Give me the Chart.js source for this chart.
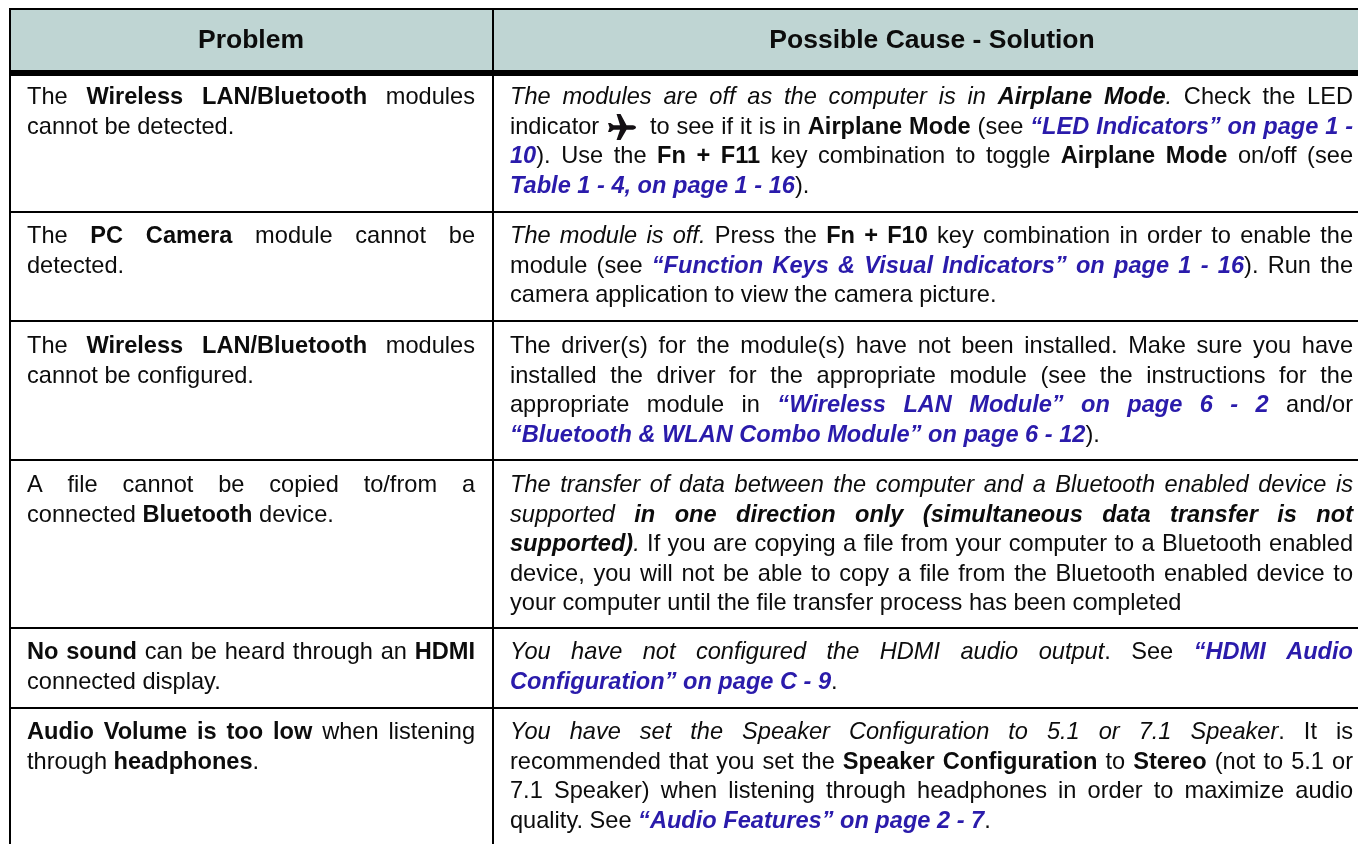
<!DOCTYPE html>
<html>
<head>
<meta charset="utf-8">
<style>html,body{margin:0;padding:0;background:#fff}canvas{display:block}</style>
<script src="https://cdn.jsdelivr.net/npm/chart.js@4"></script>
</head>
<body>
<canvas id="c" width="1358" height="844"></canvas>
<script>
// Markup: * bold, _ italic, { } blue bold-italic link, @ airplane icon. Lines ending in "|" are not justified.
const columnHeaders = ["Problem", "Possible Cause - Solution"];
const problems = [
  ["The *Wireless LAN/Bluetooth* modules", "cannot be detected.|"],
  ["The *PC Camera* module cannot be", "detected.|"],
  ["The *Wireless LAN/Bluetooth* modules", "cannot be configured.|"],
  ["A file cannot be copied to/from a", "connected *Bluetooth* device.|"],
  ["*No sound* can be heard through an *HDMI*", "connected display.|"],
  ["*Audio Volume is too low* when listening", "through *headphones*.|"]
];
const solutions = [
  ["_The modules are off as the computer is in *Airplane Mode*._ Check the LED",
   "indicator @ to see if it is in *Airplane Mode* (see {“LED Indicators” on page 1 -}",
   "{10}). Use the *Fn + F11* key combination to toggle *Airplane Mode* on/off (see",
   "{Table 1 - 4, on page 1 - 16}).|"],
  ["_The module is off._ Press the *Fn + F10* key combination in order to enable the",
   "module (see {“Function Keys & Visual Indicators” on page 1 - 16}). Run the",
   "camera application to view the camera picture.|"],
  ["The driver(s) for the module(s) have not been installed. Make sure you have",
   "installed the driver for the appropriate module (see the instructions for the",
   "appropriate module in {“Wireless LAN Module” on page 6 - 2} and/or",
   "{“Bluetooth & WLAN Combo Module” on page 6 - 12}).|"],
  ["_The transfer of data between the computer and a Bluetooth enabled device is_",
   "_supported *in one direction only (simultaneous data transfer is not*_",
   "_*supported)*._ If you are copying a file from your computer to a Bluetooth enabled",
   "device, you will not be able to copy a file from the Bluetooth enabled device to",
   "your computer until the file transfer process has been completed|"],
  ["_You have not configured the HDMI audio output_. See {“HDMI Audio}",
   "{Configuration” on page C - 9}.|"],
  ["_You have set the Speaker Configuration to 5.1 or 7.1 Speaker_. It is",
   "recommended that you set the *Speaker Configuration* to *Stereo* (not to 5.1 or",
   "7.1 Speaker) when listening through headphones in order to maximize audio",
   "quality. See {“Audio Features” on page 2 - 7}.|"]
];

// Table geometry, read in page pixels through the chart's scales
const rowRules = [9, 73, 212, 321, 460, 628, 708];
const columnRules = [10, 492.5];
const firstBaselines = [104, 243, 353, 492, 659, 739];
const LINE_PITCH = 29.5;
const BODY_PX = 23.6, HEAD_PX = 26.5;
const FAMILY = '"Liberation Sans", Arial, sans-serif';
const INK = '#0c0c0c', LINK = '#2a1bab', HEAD_FILL = '#bfd5d3';
const SOFTEN = 'blur(0.4px)';

function fontFor(s, px) {
  return (s.i ? 'italic ' : '') + (s.b ? 'bold ' : '') + px + 'px ' + FAMILY;
}
// split a marked-up line into words, each word a list of styled runs
function parseLine(line) {
  const words = [[]];
  const s = {b: false, i: false, l: false};
  let buf = '';
  const flush = () => {
    if (buf) { words[words.length - 1].push({t: buf, b: s.b || s.l, i: s.i || s.l, l: s.l}); buf = ''; }
  };
  for (const ch of line) {
    if (ch === '*') { flush(); s.b = !s.b; }
    else if (ch === '_') { flush(); s.i = !s.i; }
    else if (ch === '{') { flush(); s.l = true; }
    else if (ch === '}') { flush(); s.l = false; }
    else if (ch === '@') { flush(); words[words.length - 1].push({icon: true}); }
    else if (ch === ' ') { flush(); words.push([]); }
    else buf += ch;
  }
  flush();
  return words;
}
function drawPlane(ctx, left, base) {
  const x = left + 2, y = base - 6;
  const outline = [[0,-4.5],[2.5,-4.5],[5.5,-2.2],[12,-2.2],[8.5,-13.5],[12.5,-13.5],[18.5,-2.2],[25,-2.2]];
  const lower = [[25,2.2],[18.5,2.2],[12.5,12.5],[8.5,12.5],[12,2.2],[5.5,2.2],[2.5,4.5],[0,4.5],[1.5,0]];
  ctx.save();
  ctx.fillStyle = '#141014';
  ctx.beginPath();
  outline.forEach((p, i) => i ? ctx.lineTo(x + p[0], y + p[1]) : ctx.moveTo(x + p[0], y + p[1]));
  ctx.quadraticCurveTo(x + 28, y - 1.6, x + 28, y);
  ctx.quadraticCurveTo(x + 28, y + 1.6, x + 25, y + 2.2);
  lower.forEach(p => ctx.lineTo(x + p[0], y + p[1]));
  ctx.closePath(); ctx.fill();
  ctx.restore();
}
function drawLine(ctx, raw, left, right, base) {
  const justify = !raw.endsWith('|');
  const words = parseLine(raw.replace('|', ''));
  ctx.font = fontFor({}, BODY_PX);
  const space = ctx.measureText(' ').width;
  const ICON_W = 37;
  const widths = words.map(w => w.reduce((sum, r) => {
    if (r.icon) return sum + ICON_W;
    ctx.font = fontFor(r, BODY_PX);
    return sum + ctx.measureText(r.t).width;
  }, 0));
  const total = widths.reduce((a, b) => a + b, 0);
  const gaps = words.length - 1;
  const gap = justify && gaps ? (right - left - total) / gaps : space;
  let x = left;
  words.forEach((w, i) => {
    let cx = x;
    w.forEach(r => {
      if (r.icon) { drawPlane(ctx, cx, base); cx += ICON_W; return; }
      ctx.font = fontFor(r, BODY_PX);
      ctx.fillStyle = r.l ? LINK : INK;
      ctx.fillText(r.t, cx, base);
      cx += ctx.measureText(r.t).width;
    });
    x += widths[i] + gap;
  });
}

const tablePlugin = {
  id: 'tablePlugin',
  beforeDraw(chart) {
    const {ctx, scales: {x, y}} = chart;
    ctx.save();
    ctx.fillStyle = '#fff';
    ctx.fillRect(0, 0, chart.width, chart.height);
    ctx.fillStyle = HEAD_FILL;
    ctx.fillRect(x.getPixelForValue(10), y.getPixelForValue(9), x.getPixelForValue(1358) - x.getPixelForValue(10), y.getPixelForValue(72) - y.getPixelForValue(9));
    ctx.restore();
  },
  afterDraw(chart) {
    const {ctx, scales: {x, y}} = chart;
    ctx.save();
    ctx.filter = SOFTEN;
    ctx.textBaseline = 'alphabetic';
    ctx.textAlign = 'center';
    ctx.font = 'bold ' + HEAD_PX + 'px ' + FAMILY;
    ctx.fillStyle = INK;
    ctx.fillText(columnHeaders[0], x.getPixelForValue(251), y.getPixelForValue(48));
    ctx.fillText(columnHeaders[1], x.getPixelForValue(932), y.getPixelForValue(48));
    ctx.textAlign = 'left';
    const drawCol = (rows, l, r) => rows.forEach((lines, ri) => lines.forEach((ln, li) =>
      drawLine(ctx, ln, x.getPixelForValue(l), x.getPixelForValue(r), y.getPixelForValue(firstBaselines[ri] + li * LINE_PITCH))));
    drawCol(problems, 27, 475);
    drawCol(solutions, 510, 1353);
    ctx.restore();
  }
};

new Chart(document.getElementById('c'), {
  type: 'scatter',
  data: {datasets: [{label: 'table', data: [], showLine: false}]},
  plugins: [tablePlugin],
  options: {
    responsive: false,
    animation: false,
    layout: {padding: {left: 9, top: 8, right: 0, bottom: 0}},
    plugins: {legend: {display: false}, tooltip: {enabled: false}},
    scales: {
      x: {
        type: 'linear', min: 9, max: 1358,
        afterBuildTicks(s) { s.ticks = columnRules.map(v => ({value: v})); },
        ticks: {display: false, autoSkip: false},
        border: {display: false},
        grid: {color: '#000', lineWidth: 2, drawTicks: false}
      },
      y: {
        type: 'linear', min: 8, max: 844, reverse: true,
        afterBuildTicks(s) { s.ticks = rowRules.map(v => ({value: v})); },
        ticks: {display: false, autoSkip: false},
        border: {display: false},
        grid: {color: '#000', lineWidth: c => (c.tick && c.tick.value === 73 ? 6 : 2), drawTicks: false}
      }
    }
  }
});
</script>
</body>
</html>
